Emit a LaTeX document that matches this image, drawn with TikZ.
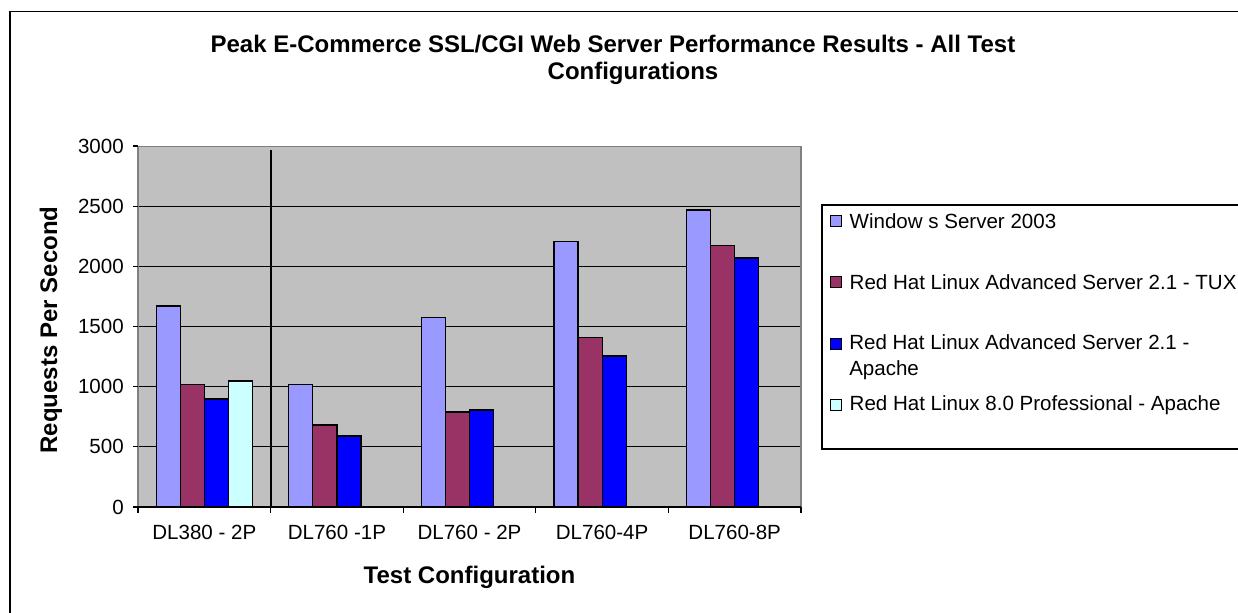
\documentclass[tikz,border=0pt]{standalone}
\usepackage{fontspec}
\setmainfont{Liberation Sans}
\usepackage{tikz}
\usetikzlibrary{positioning}
\definecolor{xlperi}{RGB}{153, 153, 255}
\definecolor{xlplum}{RGB}{153, 51, 102}
\definecolor{xlblue}{RGB}{0, 0, 255}
\definecolor{xlcyan}{RGB}{204, 255, 255}
\definecolor{xlgray}{RGB}{192, 192, 192}
\definecolor{xlframe}{RGB}{128, 128, 128}
\tikzset{
  barbox/.style={draw=black, line width=0.9pt},
  ticklabel/.style={font=\fontsize{15.4}{19.5}\selectfont, inner sep=0pt},
  axtitle/.style={font=\fontsize{18}{20.25}\selectfont\bfseries, inner sep=0pt},
  keybox/.style={draw=black, line width=0.6pt, minimum size=8.25pt, inner sep=0pt},
}

\begin{document}
\begin{tikzpicture}[x=0.75pt, y=-0.75pt]
\useasboundingbox (0,0) rectangle (1238,613);
\clip (0,0) rectangle (1238,613);
% Chart frame
\draw[line width=1pt] (10,11.5) rectangle (1260,640);

% Title
\node[axtitle, align=center] (title) at (633,59.5) {Peak E-Commerce SSL/CGI Web Server Performance Results - All Test\hspace*{30pt}\\Configurations};

% Plot area and gridlines
\fill[xlgray] (138,146.5) rectangle (801,507);
\foreach \k in {1,...,5} {
    \draw[line width=0.8pt] (138,{507-60.17*\k}) -- (801,{507-60.17*\k});
}
\draw[xlframe, line width=1.2pt] (138,146.5) -- (801,146.5) -- (801,507);
\draw[line width=1.5pt] (270.6,150) -- (270.6,507);

% Windows Server 2003
\foreach \v [count=\g from 0] in {1670,1020,1577,2208,2469} {
    \draw[barbox, fill=xlperi] ({156.1+132.6*\g},507) rectangle ({180.2+132.6*\g},{507-0.12033*\v});
}
% Red Hat Linux Advanced Server 2.1 - TUX
\foreach \v [count=\g from 0] in {1020,682,790,1410,2175} {
    \draw[barbox, fill=xlplum] ({180.2+132.6*\g},507) rectangle ({204.3+132.6*\g},{507-0.12033*\v});
}
% Red Hat Linux Advanced Server 2.1 - Apache
\foreach \v [count=\g from 0] in {898,590,806,1255,2070} {
    \draw[barbox, fill=xlblue] ({204.3+132.6*\g},507) rectangle ({228.4+132.6*\g},{507-0.12033*\v});
}
% Red Hat Linux 8.0 Professional - Apache (DL380 only)
\draw[barbox, fill=xlcyan] (228.4,507) rectangle (252.5,{507-0.12033*1047});

% Axes and ticks
\draw[xlframe, line width=1.2pt] (138,146.5) -- (138,507);
\draw[line width=0.8pt] (133,507) -- (801,507);
\foreach \k [evaluate=\k as \lab using int(500*\k)] in {0,...,6} {
    \draw[line width=0.8pt] (133,{507-60.17*\k}) -- (138,{507-60.17*\k});
    \node[ticklabel, anchor=east] (ytick\k) at (124,{507-60.17*\k}) {\lab};
}
\foreach \g in {0,...,5} {
    \draw[line width=0.8pt] ({138+132.6*\g},507) -- ({138+132.6*\g},513);
}
\foreach \lab [count=\g from 0] in {DL380 - 2P, DL760 -1P, DL760 - 2P, DL760-4P, DL760-8P} {
    \node[ticklabel] (cfg\g) at ({204.3+132.6*\g},532) {\lab};
}

% Axis titles
\node[axtitle] (xtitle) at (469.5,577) {Test Configuration};
\node[axtitle, rotate=90] (ytitle) at (51,330) {Requests Per Second};

% Legend
\draw[line width=0.8pt] (822,205) rectangle (1245,449);
\node[keybox, fill=xlperi] (key1) at (835.5,220.7) {};
\node[ticklabel, anchor=west, right=6pt of key1] (leg1) {Window s Server 2003};
\node[keybox, fill=xlplum] (key2) at (835.5,282) {};
\node[ticklabel, anchor=west, right=6pt of key2] (leg2) {Red Hat Linux Advanced Server 2.1 - TUX};
\node[keybox, fill=xlblue] (key3) at (835.5,344) {};
\node[ticklabel, anchor=west, align=left] (leg3) at (849,357) {Red Hat Linux Advanced Server 2.1 -\\Apache};
\node[keybox, fill=xlcyan] (key4) at (835.5,405) {};
\node[ticklabel, anchor=west, right=6pt of key4] (leg4) {Red Hat Linux 8.0 Professional - Apache};
\end{tikzpicture}
\end{document}
